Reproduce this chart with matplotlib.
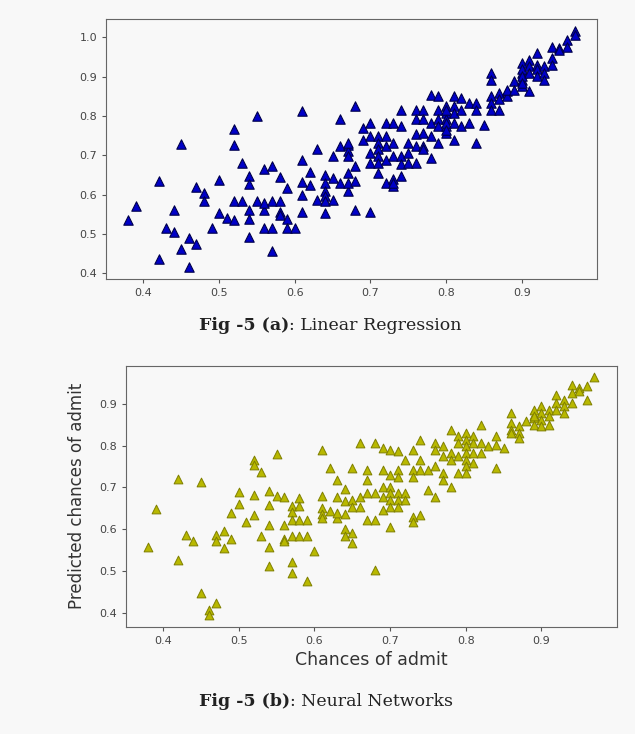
import numpy as np
import matplotlib
matplotlib.use("Agg")
import matplotlib.pyplot as plt

# actual chances of admit (x) and predicted values grouped by x
x_lr = [0.38, 0.39, 0.42, 0.43, 0.44, 0.45, 0.46, 0.47, 0.48, 0.49, 0.50, 0.51, 0.52, 0.53,
        0.54, 0.55, 0.56, 0.57, 0.58, 0.59, 0.60, 0.61, 0.62, 0.63, 0.64, 0.65, 0.66, 0.67,
        0.68, 0.69, 0.70, 0.71, 0.72, 0.73, 0.74, 0.75, 0.76, 0.77, 0.78, 0.79, 0.80, 0.81,
        0.82, 0.83, 0.84, 0.85, 0.86, 0.87, 0.88, 0.89, 0.90, 0.91, 0.92, 0.93, 0.94, 0.95,
        0.96, 0.97]
pred_lr = [
    [0.535], [0.571], [0.634, 0.436], [0.516], [0.560, 0.505], [0.729, 0.461],
    [0.491, 0.416], [0.474, 0.620], [0.605, 0.583], [0.516], [0.637, 0.554], [0.541],
    [0.766, 0.727, 0.583, 0.535], [0.681, 0.583], [0.647, 0.628, 0.562, 0.539, 0.492],
    [0.801, 0.583], [0.666, 0.562, 0.516, 0.580], [0.672, 0.583, 0.516, 0.457],
    [0.644, 0.583, 0.557, 0.549], [0.618, 0.539, 0.516], [0.516],
    [0.812, 0.689, 0.632, 0.600, 0.556], [0.658, 0.624], [0.715, 0.586],
    [0.651, 0.630, 0.609, 0.596, 0.583, 0.554], [0.698, 0.642, 0.586], [0.791, 0.724, 0.630],
    [0.727, 0.710, 0.698, 0.656, 0.609, 0.732, 0.630], [0.826, 0.634, 0.562, 0.673],
    [0.770, 0.740], [0.556, 0.782, 0.748, 0.706, 0.681],
    [0.748, 0.732, 0.715, 0.698, 0.681, 0.656], [0.782, 0.748, 0.723, 0.689, 0.630],
    [0.782, 0.732, 0.698, 0.639, 0.622, 0.630], [0.816, 0.774, 0.698, 0.677, 0.647],
    [0.732, 0.706, 0.681], [0.816, 0.791, 0.753, 0.723, 0.681],
    [0.816, 0.791, 0.757, 0.723, 0.715], [0.854, 0.782, 0.748, 0.694],
    [0.850, 0.816, 0.791, 0.774, 0.732],
    [0.825, 0.808, 0.791, 0.774, 0.757, 0.816, 0.782, 0.765],
    [0.850, 0.825, 0.808, 0.782, 0.740], [0.846, 0.816, 0.774], [0.833, 0.782],
    [0.833, 0.816, 0.732], [0.778], [0.909, 0.892, 0.850, 0.833, 0.816],
    [0.858, 0.842, 0.816], [0.863, 0.850, 0.867], [0.888, 0.867],
    [0.909, 0.892, 0.875, 0.934, 0.918, 0.901, 0.884], [0.943, 0.926, 0.909, 0.863],
    [0.959, 0.930, 0.918, 0.901], [0.926, 0.909, 0.892], [0.976, 0.947, 0.930],
    [0.972, 0.968], [0.993, 0.976], [1.016, 1.006],
]

x_nn = [0.38, 0.39, 0.42, 0.43, 0.44, 0.45, 0.46, 0.47, 0.48, 0.49, 0.50, 0.51, 0.52, 0.53,
        0.54, 0.55, 0.56, 0.57, 0.58, 0.59, 0.60, 0.61, 0.62, 0.63, 0.64, 0.65, 0.66, 0.67,
        0.68, 0.69, 0.70, 0.71, 0.72, 0.73, 0.74, 0.75, 0.76, 0.77, 0.78, 0.79, 0.80, 0.81,
        0.82, 0.83, 0.84, 0.85, 0.86, 0.87, 0.88, 0.89, 0.90, 0.91, 0.92, 0.93, 0.94, 0.95,
        0.96, 0.97]
pred_nn = [
    [0.557], [0.649], [0.721, 0.527], [0.587], [0.571], [0.713, 0.447], [0.407, 0.395],
    [0.423, 0.587, 0.571], [0.595, 0.555], [0.638, 0.577], [0.689, 0.661], [0.617],
    [0.766, 0.754, 0.681, 0.633], [0.738, 0.583], [0.691, 0.659, 0.610, 0.557, 0.511],
    [0.780, 0.679], [0.677, 0.610, 0.577, 0.571], [0.656, 0.640, 0.622, 0.583, 0.521, 0.495],
    [0.675, 0.655, 0.622, 0.583], [0.622, 0.583, 0.477], [0.547],
    [0.790, 0.679, 0.651, 0.637, 0.627], [0.746, 0.643], [0.717, 0.627, 0.678, 0.638],
    [0.696, 0.668, 0.636, 0.600, 0.583], [0.591, 0.567, 0.746, 0.670, 0.654],
    [0.806, 0.678, 0.654], [0.742, 0.718, 0.686, 0.622], [0.686, 0.622, 0.806, 0.503],
    [0.794, 0.742, 0.678, 0.646, 0.702], [0.790, 0.730, 0.702, 0.686, 0.670, 0.654, 0.606],
    [0.786, 0.686, 0.670, 0.654, 0.742, 0.726], [0.686, 0.670, 0.766],
    [0.790, 0.742, 0.630, 0.618, 0.726], [0.814, 0.766, 0.742, 0.634], [0.742, 0.694],
    [0.806, 0.790, 0.678, 0.750], [0.798, 0.774, 0.734, 0.718], [0.838, 0.782, 0.766, 0.702],
    [0.822, 0.806, 0.774, 0.734], [0.830, 0.814, 0.798, 0.782, 0.766, 0.750, 0.734],
    [0.822, 0.806, 0.782, 0.758], [0.850, 0.806, 0.782], [0.798], [0.822, 0.802, 0.746],
    [0.794], [0.878, 0.854, 0.838, 0.830], [0.846, 0.830, 0.818], [0.858],
    [0.874, 0.866, 0.886, 0.870, 0.850], [0.894, 0.878, 0.862, 0.846], [0.886, 0.870, 0.850],
    [0.922, 0.902, 0.886], [0.910, 0.894, 0.878], [0.946, 0.926, 0.902], [0.938, 0.930],
    [0.942, 0.910], [0.963],
]

x_ticks = [0.4, 0.5, 0.6, 0.7, 0.8, 0.9]


def flatten(xs, groups):
    xx = np.concatenate([[x] * len(g) for x, g in zip(xs, groups)])
    yy = np.concatenate(groups)
    return xx, yy


bg = "#f8f8f8"
serif = "DejaVu Serif"
fig = plt.figure(figsize=(6.35, 7.34), dpi=100, facecolor=bg)

# Fig 5(a) - linear regression
ax1 = fig.add_axes([0.167, 0.620, 0.773, 0.354], facecolor=bg)
xa, ya = flatten(x_lr, pred_lr)
ax1.scatter(xa, ya, marker="^", s=46, c="#0000c8", edgecolors="#00004a", linewidths=0.8)
ax1.set_xticks(x_ticks)
ax1.set_yticks([0.4, 0.5, 0.6, 0.7, 0.8, 0.9, 1.0])

# Fig 5(b) - neural network
ax2 = fig.add_axes([0.198, 0.146, 0.773, 0.356], facecolor=bg)
xb, yb = flatten(x_nn, pred_nn)
ax2.scatter(xb, yb, marker="^", s=40, c="#b8b800", edgecolors="#7f7f00", linewidths=0.7)
ax2.set_xticks(x_ticks)
ax2.set_yticks([0.4, 0.5, 0.6, 0.7, 0.8, 0.9])
ax2.set_xlabel("Chances of admit", fontsize=12.5, color="#333333", labelpad=4)
ax2.set_ylabel("Predicted chances of admit", fontsize=12, color="#333333", labelpad=9)

for ax in (ax1, ax2):
    ax.tick_params(labelsize=8, colors="#555555", labelcolor="#444444", length=3)
    for sp in ax.spines.values():
        sp.set_color("#666666")

# captions: bold prefix, then regular text right after it
captions = [("Fig -5 (a)", ": Linear Regression", 330),
            ("Fig -5 (b)", ": Neural Networks", 706)]
for bold, rest, ypix in captions:
    t = fig.text(199 / 635, 1 - ypix / 734, bold, fontsize=12.5, fontweight="bold",
                 family=serif, color="#222222", va="baseline", ha="left")
    ax1.annotate(rest, xy=(1, 0), xycoords=t, va="bottom", ha="left",
                 fontsize=12.5, family=serif, color="#222222", annotation_clip=False)

fig.savefig("out.png", dpi=100, facecolor=bg)
